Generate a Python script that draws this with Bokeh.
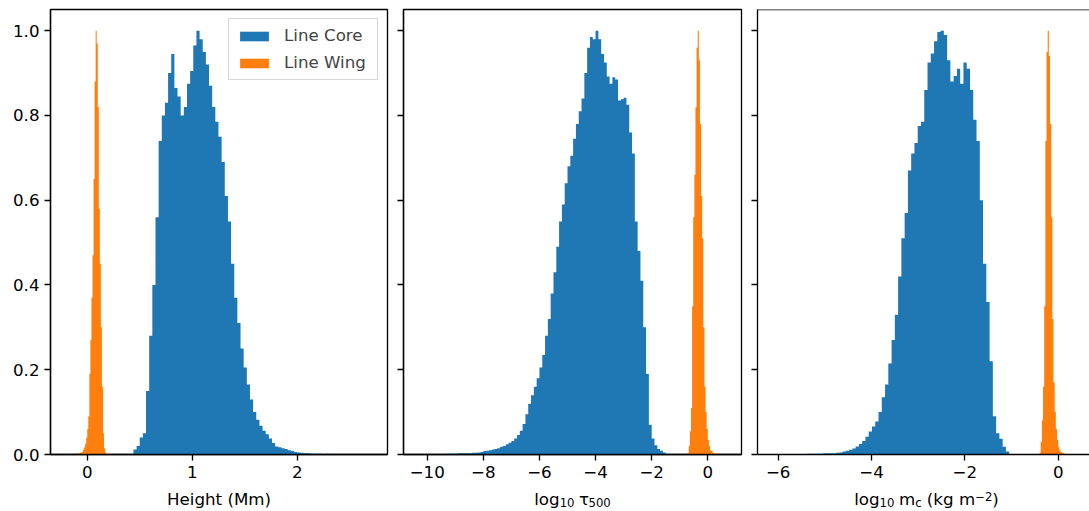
import numpy as np
from bokeh.plotting import figure
from bokeh.layouts import row, column
from bokeh.models import Range1d, FixedTicker, Label, Span
from bokeh.embed import file_html
from bokeh.resources import INLINE

# ---------------- data (normalised histograms) ----------------
# Panel 1: Height (Mm)
height_core_range = (0.44, 2.72)
height_core = [0.012, 0.020, 0.040, 0.050, 0.15, 0.28, 0.40, 0.56, 0.74, 0.80,
               0.83, 0.90, 0.945, 0.865, 0.845, 0.80, 0.82, 0.875, 0.905, 0.965,
               1.00, 0.98, 0.95, 0.92, 0.87, 0.82, 0.785, 0.75, 0.69, 0.61,
               0.55, 0.45, 0.37, 0.31, 0.25, 0.205, 0.165, 0.13, 0.10, 0.082,
               0.068, 0.056, 0.048, 0.038, 0.027, 0.019, 0.017, 0.015, 0.013, 0.010,
               0.008, 0.006, 0.005, 0.004, 0.003, 0.003, 0.002, 0.002, 0.002, 0.002,
               0.001, 0.002, 0.001, 0.001, 0.001, 0.001, 0.001, 0.001, 0.001, 0.001,
               0.001, 0.001, 0.001, 0.001, 0.001, 0.001]
height_wing_range = (-0.20, 0.18)
height_wing = [0.001, 0.001, 0.001, 0.001, 0.001, 0.001, 0.002, 0.002, 0.002, 0.002,
               0.003, 0.003, 0.003, 0.004, 0.005, 0.006, 0.012, 0.017, 0.025, 0.040,
               0.060, 0.09, 0.19, 0.27, 0.37, 0.47, 0.65, 0.88, 1.00, 0.97,
               0.82, 0.58, 0.45, 0.30, 0.16, 0.05, 0.015, 0.005]

# Panel 2: log10 tau500
tau_core_range = (-10.3, -1.5)
tau_core = [0.001, 0.001, 0.001, 0.001, 0.001, 0.001, 0.001, 0.001, 0.001, 0.001,
            0.002, 0.002, 0.002, 0.002, 0.003, 0.003, 0.003, 0.003, 0.003, 0.004,
            0.004, 0.005, 0.006, 0.008, 0.009, 0.010, 0.012, 0.013, 0.015, 0.018,
            0.020, 0.024, 0.028, 0.032, 0.038, 0.046, 0.056, 0.072, 0.095, 0.120,
            0.140, 0.160, 0.180, 0.205, 0.235, 0.28, 0.32, 0.38, 0.43, 0.49,
            0.55, 0.59, 0.64, 0.68, 0.705, 0.745, 0.78, 0.81, 0.84, 0.90,
            0.96, 0.985, 0.98, 1.00, 0.98, 0.945, 0.925, 0.892, 0.875, 0.89,
            0.885, 0.835, 0.838, 0.842, 0.825, 0.76, 0.71, 0.55, 0.48, 0.41,
            0.30, 0.19, 0.07, 0.038, 0.022, 0.013, 0.009, 0.005]
tau_wing_range = (-0.72, 0.68)
tau_wing = [0.004, 0.02, 0.055, 0.11, 0.35, 0.56, 0.66, 0.82, 0.96, 1.00,
            0.93, 0.78, 0.61, 0.51, 0.30, 0.16, 0.10, 0.06, 0.035, 0.02,
            0.010, 0.008, 0.005, 0.003, 0.003, 0.002, 0.002, 0.002, 0.002, 0.001,
            0.001, 0.001, 0.001, 0.001, 0.001]

# Panel 3: log10 column mass
mass_core_range = (-6.09, -1.05)
mass_core = [0.001, 0.001, 0.001, 0.001, 0.001, 0.001, 0.001, 0.001, 0.001, 0.001,
             0.002, 0.002, 0.002, 0.002, 0.002, 0.003, 0.003, 0.003, 0.003, 0.004,
             0.005, 0.007, 0.009, 0.011, 0.014, 0.019, 0.025, 0.032, 0.042, 0.054,
             0.066, 0.078, 0.10, 0.135, 0.165, 0.215, 0.27, 0.33, 0.42, 0.51,
             0.57, 0.67, 0.71, 0.735, 0.775, 0.785, 0.86, 0.925, 0.946, 0.975,
             0.997, 1.00, 0.99, 0.93, 0.88, 0.893, 0.91, 0.875, 0.925, 0.91,
             0.86, 0.79, 0.74, 0.60, 0.45, 0.36, 0.22, 0.09, 0.05, 0.037,
             0.018, 0.007]
mass_wing_range = (-0.40, 0.475)
mass_wing = [0.004, 0.03, 0.08, 0.16, 0.35, 0.74, 0.95, 1.00, 0.94, 0.78,
             0.56, 0.32, 0.17, 0.10, 0.06, 0.035, 0.018, 0.010, 0.006, 0.004,
             0.003, 0.002, 0.002, 0.002, 0.001, 0.001, 0.001, 0.001, 0.001, 0.001,
             0.001, 0.001, 0.001, 0.001, 0.001]

series_labels = ["Line Core", "Line Wing"]
y_ticks = [0.0, 0.2, 0.4, 0.6, 0.8, 1.0]
y_tick_labels = ["0.0", "0.2", "0.4", "0.6", "0.8", "1.0"]
x_ticks_1 = [0, 1, 2]
x_ticks_2 = [-10, -8, -6, -4, -2, 0]
x_ticks_3 = [-6, -4, -2, 0]

# ---------------- styling ----------------
FONT = "DejaVu Sans"
FS = 16.67
SUB = 11.67
BLUE = "#1f77b4"
ORANGE = "#ff7f0e"
LW = 1.33
W_TOTAL = 1089
H_MAIN = 485
H_STRIP = 511 - H_MAIN

# DejaVu Sans advance widths (em)
EM = {"l": 0.278, "o": 0.612, "g": 0.635, "0": 0.636, "1": 0.636, "2": 0.636,
      "5": 0.636, " ": 0.318, "m": 0.974, "c": 0.550, "(": 0.390, ")": 0.390,
      "k": 0.579, "\u2212": 0.838, "\u03c4": 0.57}


def fmt_tick(t):
    return ("\u2212" + str(-t)) if t < 0 else str(t)


def make_fig(width, left, right, xr, xticks, ylabels):
    p = figure(width=width, height=H_MAIN, x_range=Range1d(*xr), y_range=Range1d(0, 1.05),
               output_backend="svg", toolbar_location=None,
               min_border_left=left, min_border_right=right,
               min_border_top=9, min_border_bottom=H_MAIN - 454)
    p.xgrid.visible = False
    p.ygrid.visible = False
    p.outline_line_color = "black"
    p.outline_line_width = LW
    p.outline_line_alpha = 1.0
    p.background_fill_color = "white"
    p.border_fill_color = "white"
    for ax in (p.xaxis[0], p.yaxis[0]):
        ax.axis_line_width = LW
        ax.axis_line_color = "black"
        ax.major_tick_line_width = LW
        ax.major_tick_line_color = "black"
        ax.major_tick_out = 6
        ax.major_tick_in = 0
        ax.minor_tick_line_color = None
        ax.major_label_text_font = FONT
        ax.major_label_text_font_size = f"{FS}px"
        ax.major_label_text_color = "black"
        ax.major_label_standoff = 5
    p.xaxis.ticker = FixedTicker(ticks=xticks)
    p.xaxis.major_label_overrides = {t: fmt_tick(t) for t in xticks}
    p.yaxis.ticker = FixedTicker(ticks=y_ticks)
    if ylabels:
        p.yaxis.major_label_overrides = dict(zip(y_ticks, y_tick_labels))
    else:
        p.yaxis.major_label_overrides = {t: "" for t in y_ticks}
        p.yaxis.major_label_text_font_size = "0px"
        p.yaxis.major_label_standoff = 0
    return p


def add_hist(p, rng, vals, color, label=None):
    edges = np.linspace(rng[0], rng[1], len(vals) + 1)
    y2 = list(vals) + [vals[-1]]
    kw = dict(legend_label=label) if label else {}
    p.varea_step(x=edges, y1=0, y2=y2, step_mode="after", fill_color=color,
                 fill_alpha=1.0, **kw)


def text_w(s, size):
    return sum(EM.get(c, 0.6) for c in s) * size


def compose(p, cx, base, pieces):
    total = 0
    for pc in pieces:
        total += pc[1] if pc[0] is None else text_w(pc[0], pc[1])
    x = cx - total / 2
    for pc in pieces:
        if pc[0] is None:
            x += pc[1]
            continue
        t, s, dy = pc
        p.add_layout(Label(x=x, y=base + dy, text=t,
                           text_font=FONT, text_font_size=f"{s}px", text_color="black",
                           text_baseline="alphabetic", text_align="left"))
        x += text_w(t, s)


# ---------------- panel 1 ----------------
p1 = make_fig(395, 50, 8, (-0.35, 2.86), x_ticks_1, True)
add_hist(p1, height_core_range, height_core, BLUE, series_labels[0])
add_hist(p1, height_wing_range, height_wing, ORANGE, series_labels[1])
lg = p1.legend[0]
lg.location = "top_right"
lg.margin = 9
lg.padding = 7
lg.spacing = 8
lg.glyph_width = 36
lg.glyph_height = 12
lg.label_height = 18
lg.label_width = 86
lg.label_standoff = 12
lg.label_text_font = FONT
lg.label_text_font_size = f"{FS}px"
lg.border_line_color = "#cccccc"
lg.border_line_alpha = 0.8
lg.border_line_width = 1.3
lg.background_fill_alpha = 0.8

# ---------------- panel 2 ----------------
p2 = make_fig(354, 8, 8, (-10.845, 1.201), x_ticks_2, False)
add_hist(p2, tau_core_range, tau_core, BLUE)
add_hist(p2, tau_wing_range, tau_wing, ORANGE)

# ---------------- panel 3 ----------------
p3 = make_fig(340, 8, 0, (-6.443, 0.671), x_ticks_3, False)
p3.outline_line_color = None
p3.add_layout(Span(location=1.05, dimension="width", line_color="black", line_width=LW))
add_hist(p3, mass_core_range, mass_core, BLUE)
add_hist(p3, mass_wing_range, mass_wing, ORANGE)

# ---------------- x-axis titles (strip below the panels) ----------------
strip = figure(width=W_TOTAL, height=H_STRIP, x_range=Range1d(0, W_TOTAL),
               y_range=Range1d(0, H_STRIP), output_backend="svg", toolbar_location=None,
               x_axis_type=None, y_axis_type=None, min_border=0)
strip.outline_line_color = None
strip.xgrid.visible = False
strip.ygrid.visible = False
base = 12
strip.add_layout(Label(x=218.5, y=base, text="Height (Mm)", text_font=FONT,
                       text_font_size=f"{FS}px", text_color="black",
                       text_baseline="alphabetic", text_align="center"))
compose(strip, 572, base, [("log", FS, 0), ("10", SUB, -3), (None, 4.5),
                           ("\u03c4", FS, 0), ("500", SUB, -3)])
compose(strip, 926, base, [("log", FS, 0), ("10", SUB, -3), (None, 4.5),
                           ("m", FS, 0), ("c", SUB, -3), (None, 5.3),
                           ("(kg m", FS, 0), ("\u22122", SUB, 3.5), (")", FS, 0)])

layout = column(row(p1, p2, p3), strip)
open("out.html", "w").write(file_html(layout, INLINE))
